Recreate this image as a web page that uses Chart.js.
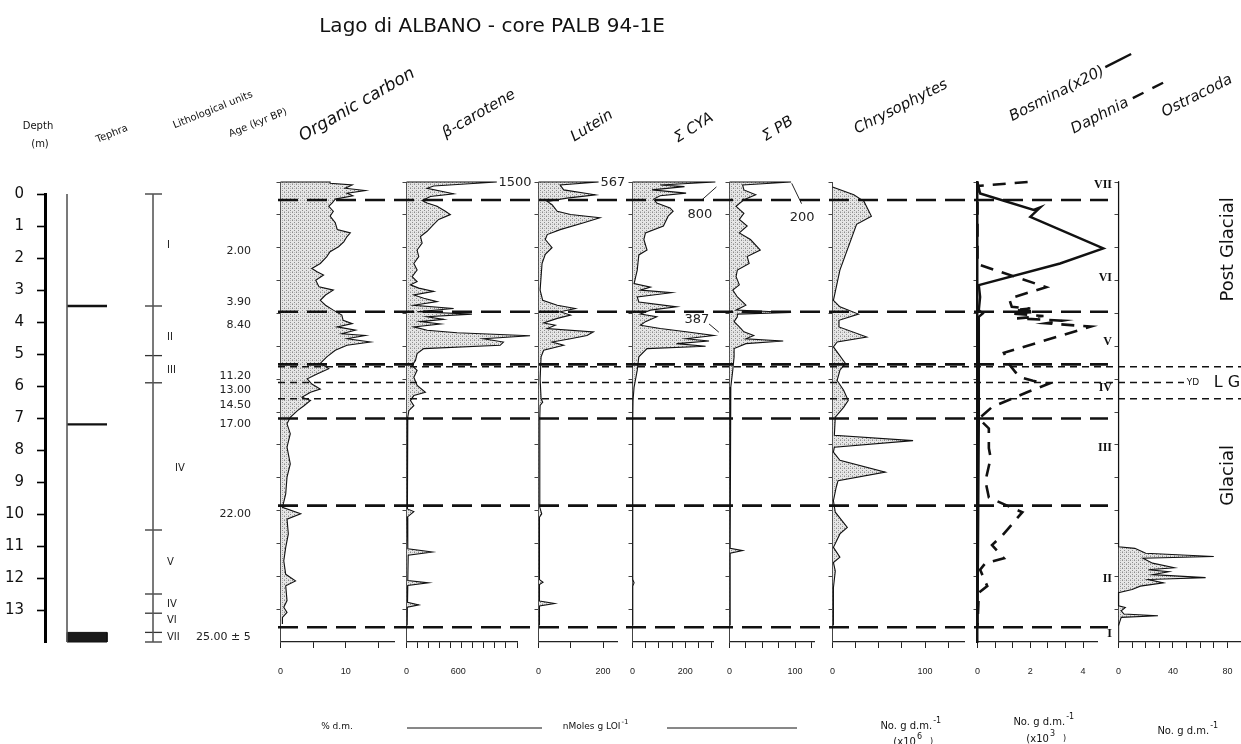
<!DOCTYPE html>
<html>
<head>
<meta charset="utf-8">
<title>Lago di ALBANO - core PALB 94-1E</title>
<script src="https://cdn.jsdelivr.net/npm/chart.js@4.4.1/dist/chart.umd.min.js"></script>
<style>
html, body { margin: 0; padding: 0; background: #fff; }
#page { position: relative; width: 1241px; height: 744px; overflow: hidden; background: #fff; }
#page canvas { position: absolute; }
</style>
</head>
<body>
<div id="page"></div>
<script>
// Lago di Albano stratigraphic diagram - one Chart.js chart per column, plus an overlay

// ---------- data (depth in m, value in the column's own units) ----------
const depthTickValues = [0, 1, 2, 3, 4, 5, 6, 7, 8, 9, 10, 11, 12, 13];
const tephraLayers = [3.5, 7.2];
const tephraBase = [13.7, 14];
const lithoBounds = [0, 3.5, 5.05, 5.9, 10.5, 12.5, 13.1, 13.7, 14];
const lithoUnits = ['I', 'II', 'III', 'IV', 'V', 'IV', 'VI', 'VII'];
const lithoUnitDepths = [1.6, 4.48, 5.5, 8.57, 11.52, 12.82, 13.33, 13.86];
const ageLabels = ['2.00', '3.90', '8.40', '11.20', '13.00', '14.50', '17.00', '22.00', '25.00 \u00b1 5'];
const ageDepths = [1.79, 3.37, 4.1, 5.7, 6.13, 6.59, 7.2, 10.02, 13.86];
const zoneBounds = [0.55, 3.95, 5.55, 7.2, 9.85, 13.55];
const lateGlacialBounds = [5.62, 6.1, 6.6];
const zoneNumerals = ['VII', 'VI', 'V', 'IV', 'III', 'II', 'I'];
const zoneNumeralDepths = [0.1, 2.93, 4.88, 6.28, 8.08, 12.07, 13.75];

// [depth, value]
const organicCarbon = [[0,0],[0,7.6],[0.04,7.6],[0.09,11],[0.19,9.9],[0.26,13],[0.34,10.2],[0.42,11.1],[0.52,8.4],[0.64,7.9],[0.74,7.4],
  [0.89,8.1],[1.04,7.6],[1.24,8.4],[1.45,8.7],[1.55,10.7],[1.66,10.2],[1.82,9.7],[1.97,8.9],[2.12,7.6],[2.27,7.1],
  [2.48,6.1],[2.63,4.8],[2.73,5.6],[2.83,6.6],[2.99,5.4],[3.19,5.9],[3.29,8.1],[3.44,6.9],[3.6,6.1],[3.75,6.9],
  [3.9,8.1],[4.05,9.4],[4.21,9.6],[4.31,11],[4.41,8.7],[4.51,11.5],[4.62,9.4],[4.67,13],[4.77,10.2],[4.87,13.8],
  [4.97,10.2],[5.12,8.4],[5.32,7.1],[5.52,6.1],[5.68,7.4],[5.84,5.6],[5.99,4.1],[6.15,4.8],[6.3,6.1],[6.4,4.6],
  [6.55,3.3],[6.65,4.6],[6.81,3.6],[6.96,2.6],[7.16,1.5],[7.36,1.0],[7.66,1.5],[8.07,1.0],[8.58,1.5],[8.98,1.0],
  [9.49,0.8],[9.9,0.3],[10.1,3.1],[10.26,1.0],[10.71,1.2],[11.12,0.8],[11.53,0.5],[11.94,0.8],[12.14,2.3],[12.29,0.8],
  [12.74,1.0],[12.94,0.5],[13.1,1.0],[13.25,0.3],[13.45,0.3]];

const betaCarotene = [[0,0],[0,1046],[0.12,315],[0.19,239],[0.36,546],[0.44,277],[0.56,181],[0.64,239],[0.74,354],[0.89,450],
  [0.99,508],[1.14,373],[1.29,315],[1.5,239],[1.66,162],[1.86,181],[2.07,123],[2.27,142],[2.48,85],[2.68,123],
  [2.88,65],[3.03,123],[3.13,46],[3.23,142],[3.33,315],[3.44,85],[3.54,200],[3.64,354],[3.75,85],[3.85,546],
  [3.95,123],[4.02,758],[4.1,239],[4.18,431],[4.25,162],[4.32,392],[4.41,85],[4.51,239],[4.59,585],[4.68,1431],
  [4.77,892],[4.87,1123],[4.97,1085],[5.07,200],[5.22,123],[5.43,104],[5.58,65],[5.73,123],[5.94,85],[6.19,123],
  [6.4,219],[6.5,85],[6.65,46],[6.81,85],[6.96,27],[7.16,15],[7.36,15],[8.5,10],[9.5,8],[9.95,10],
  [10.03,85],[10.2,8],[11.16,15],[11.26,300],[11.36,20],[12.13,15],[12.2,254],[12.28,15],[12.79,12],[12.87,142],
  [12.94,10],[13.5,8]];

const lutein = [[0,0],[0,186],[0.09,67],[0.24,78],[0.39,176],[0.49,88],[0.59,27],[0.69,42],[0.89,58],[0.99,99],[1.09,190],
  [1.24,140],[1.45,67],[1.6,27],[1.75,21],[2.0,42],[2.2,21],[2.48,11],[2.88,8],[3.29,5],[3.6,13],
  [3.75,58],[3.85,114],[3.95,67],[4.05,99],[4.15,58],[4.29,16],[4.36,52],[4.46,27],[4.56,170],[4.67,150],
  [4.77,99],[4.87,42],[4.97,78],[5.12,16],[5.32,8],[6.0,5],[6.6,8],[6.7,13],[6.8,5],[7.2,4],
  [9.9,4],[10.1,10],[10.2,3],[12.1,3],[12.18,14],[12.25,3],[12.75,3],[12.83,50],[12.9,3],[13.5,3]];

const cyanobacteria = [[0,0],[0,314],[0.09,105],[0.14,197],[0.24,74],[0.34,203],[0.42,105],[0.52,80],[0.64,92],[0.79,142],
  [0.89,154],[1.04,135],[1.34,117],[1.55,49],[1.75,43],[2.07,55],[2.22,24],[2.68,18],[3.09,6],[3.2,68],
  [3.29,30],[3.37,148],[3.5,18],[3.65,24],[3.8,167],[3.9,68],[4.02,30],[4.1,92],[4.25,49],[4.36,30],
  [4.46,105],[4.56,203],[4.67,308],[4.77,203],[4.84,290],[4.92,167],[5.0,277],[5.07,55],[5.32,24],[5.73,18],
  [6.24,6],[6.65,2],[7.2,1],[12.1,1],[12.2,6],[12.3,1],[13.5,1]];

const purpleBacteria = [[0,0],[0,94],[0.09,20],[0.24,22],[0.39,40],[0.54,22],[0.74,10],[0.95,22],[1.14,15],[1.34,27],
  [1.55,15],[1.75,32],[2.07,47],[2.27,27],[2.48,30],[2.68,12],[2.88,10],[3.13,15],[3.29,5],[3.5,12],
  [3.75,25],[3.9,10],[3.97,94],[4.02,12],[4.1,12],[4.25,7],[4.41,15],[4.56,22],[4.67,37],[4.77,25],
  [4.84,82],[4.92,25],[5.07,7],[5.32,7],[5.73,5],[6.24,2],[6.75,1],[11.15,1],[11.22,20],[11.3,1],[13.5,1]];

const chrysophytes = [[0.15,0],[0.39,23],[0.59,34],[1.04,42],[1.29,26],[2.68,8],[3.6,1],[3.8,8],[4.02,28],[4.21,7],
  [4.41,7],[4.72,37],[4.87,5],[5.02,1],[5.52,14],[5.73,8],[6.04,5],[6.34,12],[6.65,17],[6.86,12],
  [7.16,3],[7.71,2],[7.87,87],[8.07,2],[8.22,1],[8.47,8],[8.83,57],[9.09,6],[9.29,4],[9.7,1],
  [10.05,3],[10.3,10],[10.51,16],[10.71,8],[11.12,1],[11.42,8],[11.58,1],[11.84,3],[12.35,1],[13.5,1]];

const bosmina = [[0,0],[0.35,0.1],[0.85,2.13],[0.77,2.38],[1.06,2.0],[2.02,4.77],[2.48,3.13],[3.14,0.05],[3.5,0.1],
  [3.9,0.05],[4.0,0.2],[4.1,0.05],[5.6,0.05],[7.2,0.05],[13.55,0]];

const daphnia = [[0,1.9],[0.12,0],[2.5,0],[3.2,2.6],[3.55,1.2],[3.8,1.3],[3.85,2.0],[3.9,1.4],[3.95,2.2],[4.0,1.3],
  [4.08,2.5],[4.15,1.5],[4.22,3.2],[4.3,2.6],[4.4,4.3],[5.2,1.0],[5.55,1.2],[5.8,1.45],[5.95,1.65],[6.05,2.1],
  [6.14,2.7],[6.39,1.9],[6.85,0.55],[7.2,0.05],[7.5,0.43],[8.1,0.43],[8.4,0.5],[9.1,0.3],[9.6,0.43],[9.95,1.4],
  [10.05,1.7],[10.75,0.95],[11.05,0.55],[11.45,1.0],[11.6,0.3],[11.8,0.1],[12.3,0.37],[12.5,0.05],[13.5,0]];

const ostracoda = [[0,0],[11.1,0],[11.15,12],[11.3,20],[11.4,70],[11.45,18],[11.6,25],[11.74,41],[11.8,22],[11.86,37],
  [11.95,25],[12.04,64],[12.1,22],[12.2,33],[12.3,16],[12.4,10],[12.5,0],[12.9,0],[12.95,5],[13.05,2],
  [13.15,4],[13.2,29],[13.25,2],[13.5,0]];

// x axes of the columns: range, tick step, labelled values
const axisDefs = {
  oc:   { max: 17.4, step: 5, labels: [0, 10] },
  bcar: { max: 1280, step: 128, labels: [0, 600] },
  lut:  { max: 243, step: 100, labels: [0, 200] },
  cya:  { max: 305, step: 50, labels: [0, 200] },
  pb:   { max: 129, step: 25, labels: [0, 100] },
  chry: { max: 142, step: 25, labels: [0, 100] },
  bos:  { max: 4.53, step: 2 / 3, labels: [0, 2, 4] },
  ost:  { max: 90, step: 10, labels: [0, 40, 80] }
};

// truncated values written beside the profiles
const bcarNotes = [{ text: '1500', v: 1065, d: 0.03 }];
const lutNotes = [{ text: '567', v: 192, d: 0.03 }];
const cyaNotes = [{ text: '800', v: 208, d: 1.0, arrow: [[262, 0.55], [318, 0.15]] },
                  { text: '387', v: 197, d: 4.2, arrow: [[290, 4.32], [327, 4.57]] }];
const pbNotes = [{ text: '200', v: 92, d: 1.07, arrow: [[95, 0.04], [110, 0.66]] }];

// ---------- layout ----------
const PLOT_TOP = 182, PLOT_BOTTOM = 642;
const SANS = '"DejaVu Sans", sans-serif';
const INK = '#111';

const panelBoxes = {
  oc:   { zero: 280, end: 394 },
  bcar: { zero: 406, end: 517 },
  lut:  { zero: 538, end: 617 },
  cya:  { zero: 632, end: 713 },
  pb:   { zero: 729, end: 814 },
  chry: { zero: 832, end: 964 },
  bos:  { zero: 977, end: 1097 },
  ost:  { zero: 1118, end: 1240.6 }
};

const page = document.getElementById('page');

function addCanvas(left, top, width, height, z) {
  const c = document.createElement('canvas');
  c.width = Math.round(width);
  c.height = Math.round(height);
  c.style.left = left + 'px';
  c.style.top = top + 'px';
  c.style.width = Math.round(width) + 'px';
  c.style.height = Math.round(height) + 'px';
  if (z) c.style.zIndex = z;
  c.style.pointerEvents = 'none';
  page.appendChild(c);
  return c;
}

function makeStipple() {
  const c = document.createElement('canvas');
  c.width = 4; c.height = 4;
  const g = c.getContext('2d');
  g.fillStyle = '#e6e6e6';
  g.fillRect(0, 0, 4, 4);
  g.fillStyle = '#8c8c8c';
  g.fillRect(0, 0, 1, 1);
  g.fillRect(2, 2, 1, 1);
  g.fillStyle = '#b8b8b8';
  g.fillRect(2, 0, 1, 1);
  g.fillRect(0, 3, 1, 1);
  return g.createPattern(c, 'repeat');
}
const stipple = makeStipple();

function onStep(v, step) {
  return Math.abs(v / step - Math.round(v / step)) < 1e-6;
}

function tickValues(def) {
  const vals = [];
  for (let k = 0; k * def.step <= def.max + 1e-9; k++) vals.push(k * def.step);
  def.labels.forEach(l => { if (!vals.some(v => Math.abs(v - l) < 1e-6)) vals.push(l); });
  return vals.sort((a, b) => a - b);
}

function toPoints(pairs) {
  return pairs.map(([d, v]) => ({ x: v, y: d }));
}

// notes plugin: text (and small arrow) placed with the column's scales
const notesPlugin = {
  id: 'notes',
  afterDatasetsDraw(chart, args, opts) {
    const notes = opts.items || [];
    const { ctx } = chart;
    const sx = chart.scales.x, sy = chart.scales.y;
    ctx.save();
    ctx.fillStyle = '#222';
    ctx.strokeStyle = '#222';
    ctx.font = '13px ' + SANS;
    ctx.textBaseline = 'middle';
    ctx.textAlign = 'left';
    notes.forEach(n => {
      ctx.fillText(n.text, sx.getPixelForValue(n.v), sy.getPixelForValue(n.d));
      if (n.arrow) {
        const [a, b] = n.arrow;
        const x1 = sx.getPixelForValue(a[0]), y1 = sy.getPixelForValue(a[1]);
        const x2 = sx.getPixelForValue(b[0]), y2 = sy.getPixelForValue(b[1]);
        ctx.lineWidth = 1;
        ctx.beginPath();
        ctx.moveTo(x1, y1);
        ctx.lineTo(x2, y2);
        ctx.stroke();
      }
    });
    ctx.restore();
  }
};

// one column chart
function makePanel(key, datasets, notes, yBorder) {
  const box = panelBoxes[key];
  const def = axisDefs[key];
  const padL = 16, yAxisW = 4, padR = 22, padT = 10, xAxisH = 40;
  const width = padL + yAxisW + (box.end - box.zero) + padR;
  const height = padT + (PLOT_BOTTOM - PLOT_TOP) + xAxisH;
  const canvas = addCanvas(box.zero - padL - yAxisW, PLOT_TOP - padT, width, height, 1);

  return new Chart(canvas, {
    type: 'line',
    data: { datasets: datasets },
    options: {
      responsive: false,
      animation: false,
      events: [],
      indexAxis: 'y',
      layout: { padding: { left: padL, right: padR, top: padT, bottom: 0 } },
      plugins: {
        legend: { display: false },
        tooltip: { enabled: false },
        notes: { items: notes }
      },
      scales: {
        x: {
          type: 'linear',
          min: 0,
          max: def.max,
          position: 'bottom',
          afterBuildTicks: s => { s.ticks = tickValues(def).map(v => ({ value: v })); },
          afterFit: s => { s.height = xAxisH; },
          grid: {
            drawOnChartArea: false,
            tickLength: 6,
            tickWidth: 1,
            tickColor: ctx => (ctx.tick && onStep(ctx.tick.value, def.step)) ? '#222' : 'rgba(0,0,0,0)'
          },
          border: { display: true, color: '#222', width: 1.2 },
          ticks: {
            autoSkip: false,
            maxRotation: 0,
            padding: 18,
            color: '#222',
            font: { family: '"Liberation Sans", sans-serif', size: 9, lineHeight: '11px' },
            callback: v => def.labels.some(l => Math.abs(l - v) < 1e-6) ? String(Math.round(v)) : ''
          }
        },
        y: {
          type: 'linear',
          min: 0,
          max: 14,
          reverse: true,
          position: 'left',
          afterBuildTicks: s => { s.ticks = depthTickValues.map(v => ({ value: v })); },
          afterFit: s => { s.width = yAxisW; },
          grid: { drawOnChartArea: false, tickLength: 4, tickWidth: 1, tickColor: '#444' },
          border: yBorder || { display: true, color: '#444', width: 1 },
          ticks: { display: false }
        }
      }
    },
    plugins: [notesPlugin]
  });
}

function filledProfile(pairs) {
  return {
    data: toPoints(pairs),
    borderColor: INK,
    borderWidth: 1.1,
    backgroundColor: stipple,
    fill: 'origin',
    pointRadius: 0,
    tension: 0,
    clip: false
  };
}

makePanel('oc', [filledProfile(organicCarbon)], []);
makePanel('bcar', [filledProfile(betaCarotene)], bcarNotes);
makePanel('lut', [filledProfile(lutein)], lutNotes);
makePanel('cya', [filledProfile(cyanobacteria)], cyaNotes);
makePanel('pb', [filledProfile(purpleBacteria)], pbNotes);
makePanel('chry', [filledProfile(chrysophytes)], []);
makePanel('bos', [
  { data: toPoints(bosmina), borderColor: INK, borderWidth: 2.4, fill: false, pointRadius: 0, tension: 0, clip: false },
  { data: toPoints(daphnia), borderColor: INK, borderWidth: 2.6, borderDash: [13, 9], fill: false, pointRadius: 0, tension: 0, clip: false }
], [], { display: true, color: INK, width: 2.5 });
makePanel('ost', [filledProfile(ostracoda)], [], { display: true, color: '#333', width: 1.2 });

// ---------- left block: depth axis, tephra, lithology, ages ----------
const LEFT_W = 270, DEPTH_AXIS_X = 45;
const colX = px => (px - DEPTH_AXIS_X) / (LEFT_W - DEPTH_AXIS_X); // fraction of the left block's plot width

function segment(x1, d1, x2, d2, width, extra) {
  return Object.assign({
    data: [{ x: x1, y: d1 }, { x: x2, y: d2 }],
    borderColor: INK, borderWidth: width, pointRadius: 0, fill: false, tension: 0, clip: false
  }, extra || {});
}

const leftSets = [];
leftSets.push(segment(colX(67), 0, colX(67), 14, 0.8, { borderColor: '#555' }));
tephraLayers.forEach(d => leftSets.push(segment(colX(67), d, colX(107), d, 2.4)));
leftSets.push({
  data: [{ x: colX(67), y: tephraBase[0] }, { x: colX(107), y: tephraBase[0] },
         { x: colX(107), y: tephraBase[1] }, { x: colX(67), y: tephraBase[1] }, { x: colX(67), y: tephraBase[0] }],
  borderColor: INK, borderWidth: 1, backgroundColor: '#1a1a1a', fill: 'shape', pointRadius: 0, tension: 0, clip: false
});
leftSets.push(segment(colX(153), 0, colX(153), 14, 0.8, { borderColor: '#555' }));
lithoBounds.forEach(d => leftSets.push(segment(colX(145), d, colX(162), d, 1.3, { borderColor: '#333' })));

const leftTextPlugin = {
  id: 'leftText',
  afterDatasetsDraw(chart) {
    const { ctx } = chart;
    const sy = chart.scales.y;
    ctx.save();
    ctx.fillStyle = '#222';
    ctx.textBaseline = 'middle';
    ctx.font = '10px ' + SANS;
    ctx.textAlign = 'left';
    lithoUnits.forEach((u, i) => ctx.fillText(u, i === 3 ? 175 : 167, sy.getPixelForValue(lithoUnitDepths[i])));
    ctx.font = '11px ' + SANS;
    ageLabels.forEach((a, i) => {
      const y = sy.getPixelForValue(ageDepths[i]);
      if (i === ageLabels.length - 1) {
        ctx.textAlign = 'left';
        ctx.fillText(a, 196, y);
      } else {
        ctx.textAlign = 'right';
        ctx.fillText(a, 251, y);
      }
    });
    ctx.restore();
  }
};

new Chart(addCanvas(0, PLOT_TOP - 10, LEFT_W, 10 + (PLOT_BOTTOM - PLOT_TOP) + 40, 1), {
  type: 'line',
  data: { datasets: leftSets },
  options: {
    responsive: false,
    animation: false,
    events: [],
    layout: { padding: { left: 0, right: 0, top: 10, bottom: 40 } },
    plugins: { legend: { display: false }, tooltip: { enabled: false } },
    scales: {
      x: { type: 'linear', min: 0, max: 1, display: false },
      y: {
        type: 'linear',
        min: 0,
        max: 14,
        reverse: true,
        position: 'left',
        afterBuildTicks: s => { s.ticks = depthTickValues.map(v => ({ value: v })); },
        afterFit: s => { s.width = DEPTH_AXIS_X; },
        grid: { drawOnChartArea: false, tickLength: 8, tickWidth: 1.6, tickColor: '#000' },
        border: { display: true, color: '#000', width: 3 },
        ticks: { padding: 13, color: '#111', font: { family: SANS, size: 15 } }
      }
    }
  },
  plugins: [leftTextPlugin]
});

// ---------- overlay: zone boundaries and all free text ----------
const BAND_LEFT = 278;
const longDashEnd = (1108 - BAND_LEFT) / (1241 - BAND_LEFT);

const overlaySets = [];
zoneBounds.forEach(d => overlaySets.push(segment(0, d, longDashEnd, d, 2.6, { borderDash: [20, 9] })));
lateGlacialBounds.forEach(d => overlaySets.push(segment(0, d, 1, d, 1.5, { borderDash: [7, 5] })));

const headers = [
  { t: 'Tephra', x: 112, y: 134, a: -22, f: '10px ' + SANS },
  { t: 'Lithological units', x: 213, y: 110, a: -22, f: '10px ' + SANS },
  { t: 'Age (kyr BP)', x: 258, y: 123, a: -22, f: '10px ' + SANS },
  { t: 'Organic carbon', x: 357, y: 105, a: -30, f: 'italic 17px ' + SANS },
  { t: '\u03b2-carotene', x: 479, y: 114, a: -30, f: 'italic 15px ' + SANS },
  { t: 'Lutein', x: 592, y: 126, a: -32, f: 'italic 15px ' + SANS },
  { t: '\u03a3 CYA', x: 694, y: 128, a: -32, f: 'italic 15px ' + SANS },
  { t: '\u03a3 PB', x: 778, y: 129, a: -32, f: 'italic 15px ' + SANS },
  { t: 'Chrysophytes', x: 901, y: 107, a: -27, f: 'italic 15px ' + SANS },
  { t: 'Bosmina(x20)', x: 1057, y: 94, a: -27, f: 'italic 15px ' + SANS, mark: 'solid' },
  { t: 'Daphnia', x: 1100, y: 116, a: -27, f: 'italic 15px ' + SANS, mark: 'dash' },
  { t: 'Ostracoda', x: 1197, y: 96, a: -27, f: 'italic 15px ' + SANS }
];

function textWithSup(ctx, main, sup, x, y, size) {
  ctx.font = size + 'px ' + SANS;
  ctx.textAlign = 'left';
  const w = ctx.measureText(main).width;
  const sw = ctx.measureText(sup).width * 0.75;
  const x0 = x - (w + sw) / 2;
  ctx.fillText(main, x0, y);
  ctx.font = Math.round(size * 0.75) + 'px ' + SANS;
  ctx.fillText(sup, x0 + w + 1, y - size * 0.55);
}

const overlayText = {
  id: 'overlayText',
  afterDraw(chart) {
    const { ctx } = chart;
    const sy = chart.scales.y;
    ctx.save();
    ctx.fillStyle = '#111';
    ctx.strokeStyle = '#111';
    ctx.textBaseline = 'middle';

    // title
    ctx.font = '20px ' + SANS;
    ctx.textAlign = 'center';
    ctx.fillText('Lago di ALBANO - core PALB 94-1E', 492, 27);

    // depth header
    ctx.font = '10px ' + SANS;
    ctx.fillText('Depth', 38, 126);
    ctx.fillText('(m)', 40, 144);

    // rotated column headers
    headers.forEach(h => {
      ctx.save();
      ctx.translate(h.x, h.y);
      ctx.rotate(h.a * Math.PI / 180);
      ctx.font = h.f;
      ctx.textAlign = 'center';
      ctx.fillText(h.t, 0, 0);
      if (h.mark) {
        const w = ctx.measureText(h.t).width / 2;
        ctx.lineWidth = 2.4;
        ctx.beginPath();
        if (h.mark === 'solid') {
          ctx.moveTo(w + 3, -2); ctx.lineTo(w + 32, -2);
        } else {
          ctx.moveTo(w + 6, -1); ctx.lineTo(w + 18, -1);
          ctx.moveTo(w + 28, -1); ctx.lineTo(w + 40, -1);
        }
        ctx.stroke();
      }
      ctx.restore();
    });

    // zone numerals (serif, on the right of the zooplankton column)
    ctx.font = 'bold 12px "Liberation Serif", serif';
    ctx.textAlign = 'right';
    zoneNumerals.forEach((z, i) => ctx.fillText(z, 1112, sy.getPixelForValue(zoneNumeralDepths[i])));

    // Post Glacial / Glacial / YD LG
    ctx.font = '18px ' + SANS;
    ctx.textAlign = 'center';
    [['Post Glacial', 2.05], ['Glacial', 8.93]].forEach(([t, d]) => {
      ctx.save();
      ctx.translate(1228, sy.getPixelForValue(d));
      ctx.rotate(-Math.PI / 2);
      ctx.fillText(t, 0, 0);
      ctx.restore();
    });
    const yd = sy.getPixelForValue(6.1);
    ctx.fillStyle = '#fff';
    ctx.fillRect(1184, yd - 7, 57, 14);
    ctx.fillStyle = '#111';
    ctx.font = '9px ' + SANS;
    ctx.fillText('YD', 1193, yd);
    ctx.font = '16px ' + SANS;
    ctx.fillText('L G', 1227, yd);

    // unit captions under the axes
    ctx.textBaseline = 'middle';
    ctx.font = '9px ' + SANS;
    ctx.textAlign = 'center';
    ctx.fillText('% d.m.', 337, 727);
    ctx.lineWidth = 1;
    ctx.beginPath();
    ctx.moveTo(407, 728); ctx.lineTo(542, 728);
    ctx.moveTo(667, 728); ctx.lineTo(797, 728);
    ctx.stroke();
    textWithSup(ctx, 'nMoles g LOI', '-1', 595, 727, 9);
    textWithSup(ctx, 'No. g d.m.', '-1', 910, 726, 10);
    textWithSup(ctx, '(x10', '6', 907, 742, 10);
    ctx.fillText(')', 930, 742);
    textWithSup(ctx, 'No. g d.m.', '-1', 1043, 722, 10);
    textWithSup(ctx, '(x10', '3', 1040, 739, 10);
    ctx.fillText(')', 1063, 739);
    textWithSup(ctx, 'No. g d.m.', '-1', 1187, 731, 10);
    ctx.restore();
  }
};

new Chart(addCanvas(0, 0, 1241, 744, 5), {
  type: 'line',
  data: { datasets: overlaySets },
  options: {
    responsive: false,
    animation: false,
    events: [],
    layout: { padding: { left: BAND_LEFT, right: 0, top: PLOT_TOP, bottom: 744 - PLOT_BOTTOM } },
    plugins: { legend: { display: false }, tooltip: { enabled: false } },
    scales: {
      x: { type: 'linear', min: 0, max: 1, display: false },
      y: { type: 'linear', min: 0, max: 14, reverse: true, display: false }
    }
  },
  plugins: [overlayText]
});
</script>
</body>
</html>
